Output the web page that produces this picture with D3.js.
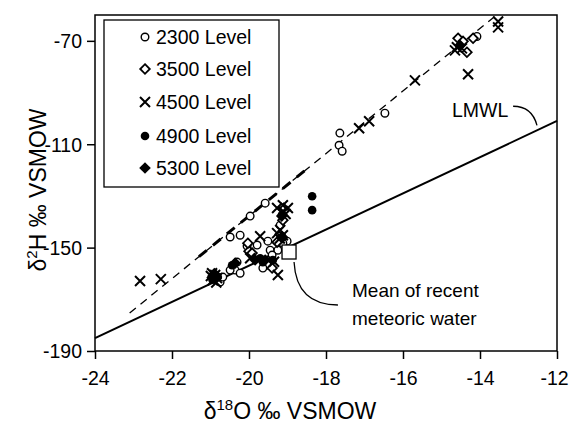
<!DOCTYPE html>
<html><head><meta charset="utf-8">
<script src="https://cdn.jsdelivr.net/npm/d3@7"></script>
<style>body{margin:0;background:#fff}svg{display:block}text{font-family:"Liberation Sans",Arial,sans-serif;fill:#000}</style>
</head><body>
<script>
// ---- data (δ18O, δ2H) ----
const level2300 = [[-14.08,-68.3],[-16.47,-98.0],[-17.64,-105.7],[-17.66,-110.4],[-17.58,-112.7],
 [-19.58,-132.8],[-19.97,-137.8],[-20.49,-145.9],[-20.23,-145.2],[-19.14,-137.4],[-19.19,-141.3],
 [-19.01,-147.5],[-19.12,-148.3],[-19.51,-147.5],[-19.79,-149.0],[-19.45,-151.0],[-19.25,-151.0],
 [-19.51,-154.8],[-19.40,-152.9],[-19.53,-156.8],[-20.36,-158.7],[-20.23,-159.9],[-20.49,-158.7],
 [-20.75,-163.3],[-20.68,-161.4],[-20.31,-155.6],[-20.05,-149.4],[-19.64,-157.9]];
const level3500 = [[-14.18,-69.0],[-14.57,-69.0],[-14.44,-70.2],[-14.34,-74.4],[-19.12,-139.4],
 [-20.0,-151.4],[-20.03,-148.3],[-19.92,-152.1],[-19.27,-147.9],[-19.14,-145.9],[-19.40,-157.9]];
const level4500 = [[-13.53,-62.5],[-13.53,-64.8],[-14.60,-72.5],[-14.65,-73.7],[-14.47,-72.9],
 [-14.31,-82.9],[-15.69,-85.3],[-16.88,-101.1],[-17.14,-103.8],[-19.12,-133.6],[-18.99,-134.7],
 [-19.27,-134.7],[-19.12,-135.9],[-19.19,-143.2],[-19.12,-145.2],[-19.27,-144.4],[-19.71,-145.6],
 [-19.97,-154.1],[-19.25,-160.6],[-20.88,-160.6],[-20.94,-162.6],[-20.96,-159.9],[-22.83,-162.9],
 [-22.29,-162.2],[-20.83,-161.8],[-20.99,-161.0],[-20.85,-163.5],[-19.05,-137.0],[-19.20,-146.5],
 [-19.35,-155.5]];
const level4900 = [[-18.36,-130.1],[-18.36,-135.5],[-19.71,-154.1],[-19.64,-155.6],[-20.44,-156.8],
 [-20.81,-161.4],[-19.38,-154.8],[-20.95,-162.3]];
const level5300 = [[-14.52,-71.7],[-19.14,-146.3],[-19.84,-154.8],[-20.36,-156.0],[-20.91,-161.8],
 [-19.58,-154.8],[-20.90,-160.0],[-19.15,-137.8]];
const meanMeteoric = [-18.96,-151.7];
const lmwlEnds = [[-24,-185],[-12,-101]];
const fitEnds = [[-23.1,-175.3],[-13.57,-60]];
const fitBold = [[-21.3,-153.5],[-18.5,-119.6]];
const xTicks = [-24,-22,-20,-18,-16,-14,-12];
const yTicks = [-70,-110,-150,-190];
const legendLabels = ["2300 Level","3500 Level","4500 Level","4900 Level","5300 Level"];

const W=570,H=432;
const svg=d3.select("body").append("svg").attr("width",W).attr("height",H);
const x=d3.scaleLinear().domain([-24,-12]).range([95,557]);
const y=d3.scaleLinear().domain([-190,-60]).range([351,15]);

// axes
const xa=svg.append("g").attr("transform","translate(0,351)")
 .call(d3.axisBottom(x).tickValues(xTicks).tickSize(8).tickPadding(12).tickFormat(d3.format("d")));
const ya=svg.append("g").attr("transform","translate(95,0)")
 .call(d3.axisLeft(y).tickValues(yTicks).tickSize(8).tickPadding(5).tickFormat(d3.format("d")));
[xa,ya].forEach(g=>{g.select(".domain").remove();g.selectAll("line").attr("stroke","#000").attr("stroke-width",1.5);
 g.selectAll("text").style("font-size","19.5px").attr("fill","#000").text(d=>"-"+Math.abs(d));});
ya.selectAll("text").attr("dy","0.35em");
xa.selectAll("text").filter(d=>d===-12).attr("dx",-3);
// frame
svg.append("rect").attr("x",95).attr("y",15).attr("width",462).attr("height",336)
 .attr("fill","none").attr("stroke","#000").attr("stroke-width",1.5);

const line=d3.line().x(d=>x(d[0])).y(d=>y(d[1]));
svg.append("path").attr("d",line(lmwlEnds)).attr("stroke","#000").attr("stroke-width",2).attr("fill","none");
svg.append("path").attr("d",line(fitEnds)).attr("stroke","#000").attr("stroke-width",1.3)
 .attr("stroke-dasharray","8,6").attr("fill","none");
svg.append("path").attr("d",line(fitBold)).attr("stroke","#000").attr("stroke-width",3)
 .attr("stroke-dasharray","10,8").attr("fill","none");

// markers
function marker(g,type){
 if(type===0) g.append("circle").attr("r",3.8).attr("fill","#fff").attr("stroke","#000").attr("stroke-width",1.4);
 else if(type===1) g.append("path").attr("d","M0,-4.8L4.8,0L0,4.8L-4.8,0Z").attr("fill","#fff").attr("stroke","#000").attr("stroke-width",1.8);
 else if(type===2) g.append("path").attr("d","M-5,-5L5,5M-5,5L5,-5").attr("stroke","#000").attr("stroke-width",2);
 else if(type===3) g.append("circle").attr("r",4.3).attr("fill","#000");
 else g.append("path").attr("d","M0,-5.8L5.8,0L0,5.8L-5.8,0Z").attr("fill","#000");
}
[level2300,level3500,level4500,level4900,level5300].forEach((s,i)=>{
 svg.append("g").selectAll("g").data(s).join("g")
  .attr("transform",d=>`translate(${x(d[0])},${y(d[1])})`).each(function(){marker(d3.select(this),i);});
});
// mean square
svg.append("rect").attr("x",x(meanMeteoric[0])-7).attr("y",y(meanMeteoric[1])-7).attr("width",14).attr("height",14)
 .attr("fill","#fff").attr("stroke","#000").attr("stroke-width",1.3);

// annotations
const p1=d3.path(); p1.moveTo(x(-18.83),y(-155.6)); p1.quadraticCurveTo(x(-18.77),y(-172.2),x(-17.69),y(-172.2));
svg.append("path").attr("d",p1.toString()).attr("fill","none").attr("stroke","#000").attr("stroke-width",1.3);
const p2=d3.path(); p2.moveTo(x(-13.14),y(-95.3)); p2.quadraticCurveTo(x(-12.65),y(-95.3),x(-12.52),y(-102.7));
svg.append("path").attr("d",p2.toString()).attr("fill","none").attr("stroke","#000").attr("stroke-width",1.3);
svg.append("text").attr("x",452).attr("y",117).style("font-size","19.5px").text("LMWL");
svg.append("text").attr("x",352).attr("y",297).style("font-size","19px").text("Mean of recent");
svg.append("text").attr("x",352).attr("y",325).style("font-size","19px").text("meteoric water");

// legend
svg.append("rect").attr("x",104).attr("y",20).attr("width",175).attr("height",167)
 .attr("fill","#fff").attr("stroke","#000").attr("stroke-width",1.3);
const ly=[37,69,102,136,168];
legendLabels.forEach((t,i)=>{
 const g=svg.append("g").attr("transform",`translate(145,${ly[i]})`); marker(g,i);
 svg.append("text").attr("x",156).attr("y",ly[i]+7).style("font-size","19.5px").text(t);
});

// axis titles
const xt=svg.append("text").attr("x",290).attr("y",419).attr("text-anchor","middle").style("font-size","23px");
xt.append("tspan").text("δ"); xt.append("tspan").attr("dy",-9).style("font-size","15px").text("18");
xt.append("tspan").attr("dy",9).text("O ‰ VSMOW");
const yt=svg.append("text").attr("transform","translate(46,190) rotate(-90)").attr("text-anchor","middle").style("font-size","23px");
yt.append("tspan").text("δ"); yt.append("tspan").attr("dy",-9).style("font-size","15px").text("2");
yt.append("tspan").attr("dy",9).text("H ‰ VSMOW");
</script>
</body></html>
